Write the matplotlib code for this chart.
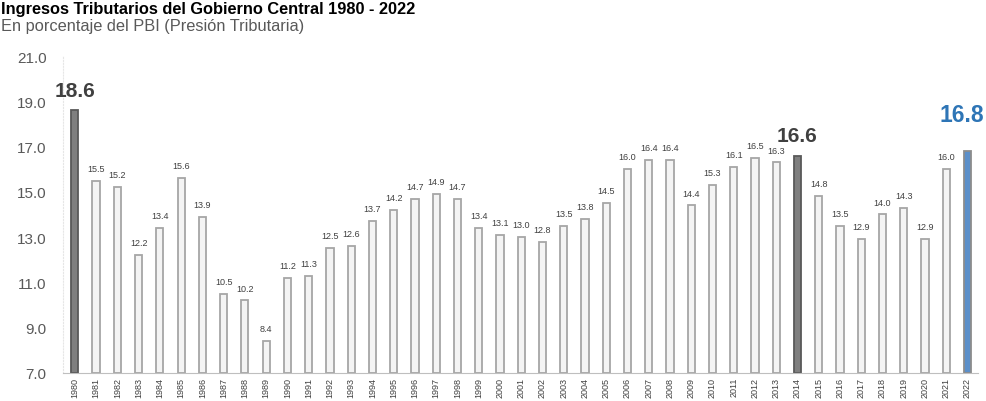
import matplotlib.pyplot as plt

years = list(range(1980, 2023))
values = [18.6, 15.5, 15.2, 12.2, 13.4, 15.6, 13.9, 10.5, 10.2, 8.4,
          11.2, 11.3, 12.5, 12.6, 13.7, 14.2, 14.7, 14.9, 14.7, 13.4,
          13.1, 13.0, 12.8, 13.5, 13.8, 14.5, 16.0, 16.4, 16.4, 14.4,
          15.3, 16.1, 16.5, 16.3, 16.6, 14.8, 13.5, 12.9, 14.0, 14.3,
          12.9, 16.0, 16.8]
highlight_gray = [1980, 2014]
highlight_blue = [2022]
yticks = [7.0, 9.0, 11.0, 13.0, 15.0, 17.0, 19.0, 21.0]

plt.rcParams['font.family'] = ['Liberation Sans', 'DejaVu Sans']

fig = plt.figure(figsize=(9.87, 4.02), dpi=100)
ax = fig.add_axes([0.064, 0.07, 0.927, 0.788])

x = list(range(len(years)))
face, edge = [], []
for yr in years:
    if yr in highlight_gray:
        face.append('#7f7f7f'); edge.append('#595959')
    elif yr in highlight_blue:
        face.append('#5b8fc9'); edge.append('#8c8c8c')
    else:
        face.append('#f4f4f4'); edge.append('#a6a6a6')

ax.bar(x, [v - 7 for v in values], bottom=7, width=0.34, color=face,
       edgecolor=edge, linewidth=1.3, zorder=2)

for xi, yr, v in zip(x, years, values):
    if yr in highlight_gray:
        ax.text(xi, v + 0.45, f'{v:.1f}', ha='center', va='bottom', fontsize=15,
                fontweight='bold', color='#404040')
    elif yr in highlight_blue:
        ax.text(xi + 0.8, v + 1.1, f'{v:.1f}', ha='right', va='bottom', fontsize=16.5,
                fontweight='bold', color='#2e75b6')
    else:
        ax.text(xi, v + 0.35, f'{v:.1f}', ha='center', va='bottom', fontsize=6.5,
                color='#404040')

ax.set_xlim(-0.55, len(years) - 0.5)
ax.set_ylim(7, 21)
ax.set_yticks(yticks)
ax.set_yticklabels([f'{t:.1f}' for t in yticks], fontsize=11, color='#595959')
ax.set_xticks(x)
ax.set_xticklabels([str(y) for y in years], rotation=90, fontsize=6.5, color='#404040')
ax.tick_params(axis='x', length=0, pad=3)
ax.tick_params(axis='y', length=0, pad=12)

for s in ['top', 'right']:
    ax.spines[s].set_visible(False)
ax.spines['left'].set_color('#e6e6e6')
ax.spines['left'].set_linestyle(':')
ax.spines['bottom'].set_color('#bfbfbf')

fig.text(0.001, 0.995, 'Ingresos Tributarios del Gobierno Central 1980 - 2022',
         fontsize=11.8, fontweight='bold', va='top', ha='left', color='#000000')
fig.text(0.001, 0.952, 'En porcentaje del PBI (Presión Tributaria)',
         fontsize=11.8, va='top', ha='left', color='#595959')

fig.savefig('out.png', dpi=100)
